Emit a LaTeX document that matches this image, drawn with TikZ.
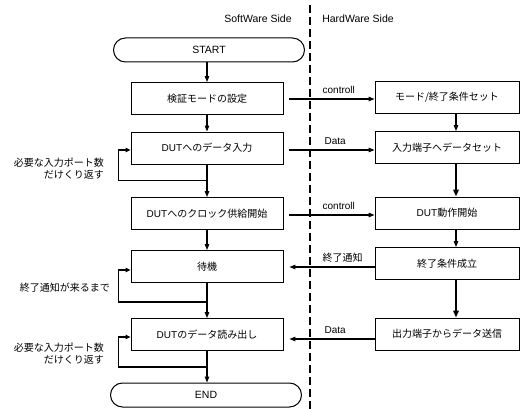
\documentclass[tikz,border=0pt]{standalone}
\usepackage{fontspec}
\setmainfont{Liberation Sans}
\newfontfamily\jp{Noto Sans CJK JP}
\usetikzlibrary{arrows.meta,calc}
\begin{document}
\begin{tikzpicture}[x=1pt,y=-1pt,
  lbox/.style={draw, line width=0.9pt, minimum width=152pt, minimum height=32pt, inner sep=0pt, font=\fontsize{10}{12}\selectfont},
  rbox/.style={draw, line width=0.9pt, minimum width=144pt, minimum height=32pt, inner sep=0pt, font=\fontsize{10}{12}\selectfont},
  term/.style={draw, line width=1pt, rounded corners=12pt, minimum width=191pt, minimum height=24pt, inner sep=0pt, font=\fontsize{10.5}{12}\selectfont},
  arr/.style={line width=1.1pt, -{Triangle[length=6pt,width=4.5pt]}},
  thickarr/.style={line width=1.8pt, -{Triangle[length=7pt,width=5.5pt]}},
  looparr/.style={line width=1.8pt, -{Triangle[length=5pt,width=4.5pt]}},
  lbl/.style={font=\fontsize{10}{12}\selectfont, inner sep=0pt, anchor=base west},
  side/.style={font=\fontsize{10.5}{12}\selectfont, inner sep=0pt},
  note/.style={font=\jp\fontsize{10}{12}\selectfont, align=right, anchor=east, inner sep=0pt}
]
\useasboundingbox (0,0) rectangle (520,409);

% headers
\node[side] (sw) at (258,19) {SoftWare Side};
\node[side] (hw) at (358,19) {HardWare Side};
\coordinate (dtop) at (310,5);
\coordinate (dbot) at (310,409);
\draw[line width=2.6pt, dash pattern=on 8pt off 4pt] (dtop) -- (dbot);

% left column
\node[term] (start) at (209,50) {START};
\node[lbox] (b1) at (207,98.5) {\jp 検証モードの設定};
\node[lbox] (b2) at (207,148) {DUT{\jp へのデータ入力}};
\node[lbox] (b3) at (207,213.5) {DUT{\jp へのクロック供給開始}};
\node[lbox] (b4) at (207,266.5) {\jp 待機};
\node[lbox] (b5) at (207,334.5) {DUT{\jp のデータ読み出し}};
\node[term] (end) at (206,395) {END};

% right column
\node[rbox] (r1) at (447,97.5) {\jp モード/終了条件セット};
\node[rbox] (r2) at (447,147.5) {\jp 入力端子へデータセット};
\node[rbox] (r3) at (447,213) {DUT{\jp 動作開始}};
\node[rbox] (r4) at (447,263.5) {\jp 終了条件成立};
\node[rbox] (r5) at (447,334) {\jp 出力端子からデータ送信};

% left vertical arrows
\draw[arr] (start.south -| b1.south) -- (b1.north);
\draw[arr] (b1.south) -- (b2.north);
\draw[arr] (b2.south) -- (b3.north);
\draw[arr] (b3.south) -- (b4.north);
\draw[arr] (b4.south) -- (b5.north);
\draw[arr] (b5.south) -- (b5.south |- end.north);

% loops
\draw[looparr] ($(b2.south)+(0,16)$) -| ($(b2.west)+(-12,2)$) -- ($(b2.west)+(0,2)$);
\draw[looparr] ($(b4.south)+(0,19)$) -| ($(b4.west)+(-12,3.5)$) -- ($(b4.west)+(0,3.5)$);
\draw[looparr] ($(b5.south)+(0,16)$) -| ($(b5.west)+(-12,2.5)$) -- ($(b5.west)+(0,2.5)$);

\node[note] (n1) at (104,169) {必要な入力ポート数\\だけくり返す};
\node[note] (n2) at (110,288) {終了通知が来るまで};
\node[note] (n3) at (104,354) {必要な入力ポート数\\だけくり返す};

% right vertical arrows
\draw[arr] ([xshift=9pt]r1.south) -- ([xshift=9pt]r2.north);
\draw[thickarr] ([xshift=9pt]r2.south) -- ([xshift=9pt]r3.north);
\draw[arr] ([xshift=9pt]r3.south) -- ([xshift=9pt]r4.north);
\draw[thickarr] ([xshift=9pt]r4.south) -- ([xshift=9pt]r5.north);

% horizontal arrows
\draw[arr] ([xshift=6pt,yshift=-0.5pt]b1.east) -- ([yshift=-0.5pt]b1.east -| r1.west);
\node[lbl] (c1) at ([xshift=39pt,yshift=5pt]b1.east) {controll};
\draw[arr] ([xshift=6pt,yshift=-2pt]b2.east) -- ([yshift=-2pt]b2.east -| r2.west);
\node[lbl] (c2) at ([xshift=41pt,yshift=3.5pt]b2.east) {Data};
\draw[arr] ([xshift=6pt,yshift=-1.5pt]b3.east) -- ([yshift=-1.5pt]b3.east -| r3.west);
\node[lbl] (c3) at ([xshift=39pt,yshift=4pt]b3.east) {controll};
\draw[arr] ([yshift=-0.5pt]b4.east -| r4.west) -- ([xshift=6pt,yshift=-0.5pt]b4.east);
\node[lbl, font=\jp\fontsize{10}{12}\selectfont] (c4) at ([xshift=39pt,yshift=5pt]b4.east) {終了通知};
\draw[arr] ([yshift=-4.5pt]b5.east -| r5.west) -- ([xshift=6pt,yshift=-4.5pt]b5.east);
\node[lbl] (c5) at ([xshift=41pt,yshift=1pt]b5.east) {Data};
\end{tikzpicture}
\end{document}
